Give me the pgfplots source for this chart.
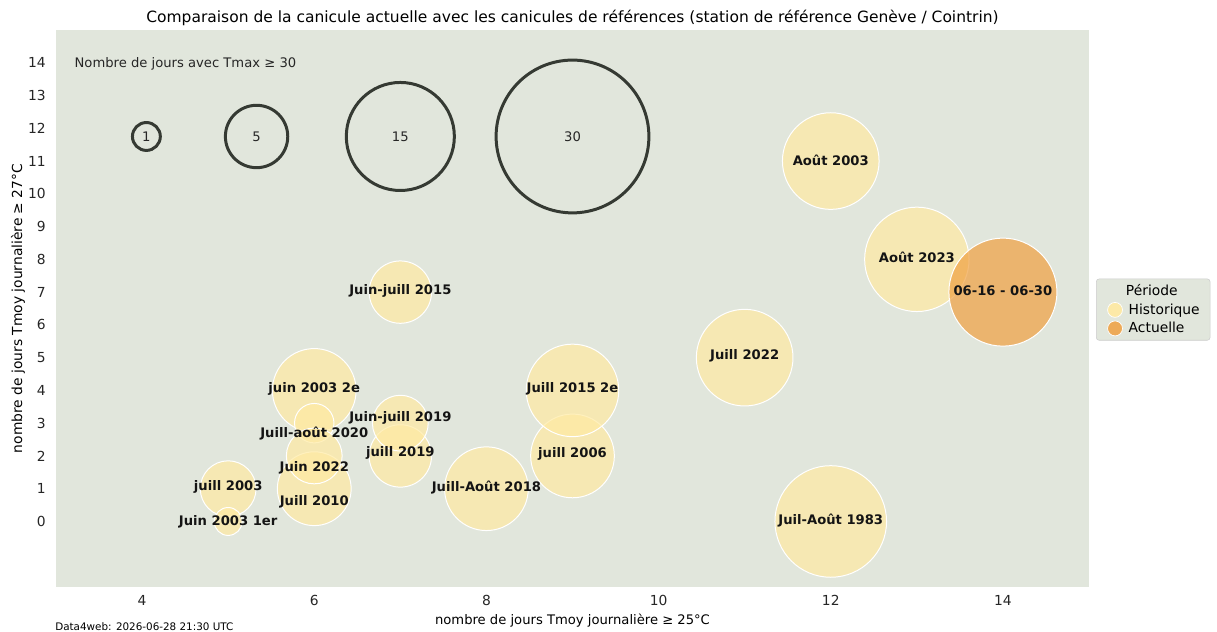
\documentclass[border=0pt]{standalone}
\usepackage{fontspec}
\setmainfont{DejaVu Sans}
\usepackage{pgfplots}
\pgfplotsset{compat=1.18}
\definecolor{BG}{HTML}{E1E6DC}
\definecolor{HistC}{HTML}{FFEAA2}
\definecolor{ActC}{HTML}{F0A040}
\definecolor{KeyC}{HTML}{353A33}
\definecolor{LegEdge}{HTML}{CCCCCC}

% 1 px of the reference = 0.01in = 0.72pt
\begin{document}
\begin{tikzpicture}
\useasboundingbox (-0.56in,-0.45in) rectangle (11.61in,5.87in);
\begin{axis}[
  name=ax,
  at={(0,0)}, anchor=south west,
  width=10.33in, height=5.57in, scale only axis,
  xmin=3, xmax=15, ymin=-2, ymax=15,
  xtick={4,6,8,10,12,14},
  ytick={0,1,...,14},
  major tick length=0pt,
  axis line style={draw=none},
  axis background/.style={fill=BG},
  /pgf/number format/assume math mode=true,
  tick label style={font=\fontsize{10}{12}\selectfont, text=black!85},
  xticklabel style={yshift=-2.5pt},
  yticklabel style={xshift=-3.9pt},
  title={Comparaison de la canicule actuelle avec les canicules de références (station de référence Genève / Cointrin)},
  title style={font=\fontsize{11.2}{13}\selectfont, at={(axis description cs:0.5,1)}, anchor=center, yshift=2.4pt},
  xlabel={nombre de jours Tmoy journalière ≥ 25°C},
  ylabel={nombre de jours Tmoy journalière ≥ 27°C},
  xlabel style={font=\fontsize{9.5}{12}\selectfont, at={(axis description cs:0.5,0)}, anchor=center, yshift=-24.5pt},
  ylabel style={font=\fontsize{10}{12}\selectfont, at={(axis description cs:0,0.5)}, anchor=center, yshift=27.4pt},
  legend cell align=left,
  legend style={at={(1.0068,0.498)}, anchor=west, fill=BG, draw=LegEdge,
    rounded corners=2pt, font=\fontsize{10}{12}\selectfont, row sep=0.3pt,
    nodes={inner xsep=4.5pt}},
  legend image post style={xshift=2pt},
]
\addlegendimage{empty legend}
\addlegendentry{\hspace*{-2pt}Période}
\addlegendimage{only marks, mark=*, mark size=5.4pt, mark options={draw=white, fill=HistC, fill opacity=0.9, line width=0.5pt}}
\addlegendentry{Historique}
\addlegendimage{only marks, mark=*, mark size=5.4pt, mark options={draw=white, fill=ActC, fill opacity=0.85, line width=0.5pt}}
\addlegendentry{Actuelle}

% size key circles (days with Tmax >= 30)
\addplot[forget plot, scatter, only marks, mark=o,
  scatter/use mapped color={draw=KeyC},
  mark options={line width=2.16pt},
  visualization depends on={10.08*sqrt(\thisrow{n}) \as \rad},
  scatter/@pre marker code/.append style={/tikz/mark size=\rad},
] table {
x y n
4.05 11.75 1
5.33 11.75 5
7 11.75 15
9 11.75 30
};

% historical heat waves
\addplot[forget plot, scatter, only marks, mark=*,
  scatter/use mapped color={draw=white, fill=HistC},
  mark options={line width=0.72pt, fill opacity=0.7},
  visualization depends on={10.08*sqrt(\thisrow{n}) \as \rad},
  scatter/@pre marker code/.append style={/tikz/mark size=\rad},
] table {
x y n
12 0 16
6 4 9
5 1 4
5 0 1
12 11 12
9 2 9
6 1 7
7 7 5
9 4 11
8 1 9
7 2 5
7 3 4
6 3 2
11 5 12
6 2 4
13 8 14
};

% current heat wave
\addplot[forget plot, scatter, only marks, mark=*,
  scatter/use mapped color={draw=white, fill=ActC},
  mark options={line width=0.72pt, fill opacity=0.7},
  visualization depends on={10.08*sqrt(\thisrow{n}) \as \rad},
  scatter/@pre marker code/.append style={/tikz/mark size=\rad},
] table {
x y n
14 7 15
};

\end{axis}

\begin{axis}[
  at={(0,0)}, anchor=south west,
  width=10.33in, height=5.57in, scale only axis,
  xmin=3, xmax=15, ymin=-2, ymax=15,
  hide axis, clip=false,
]
\addplot[draw=none, forget plot] coordinates {(3,-2) (15,15)};
\begin{scope}[font=\fontsize{9.5}{11}\selectfont, text=black!85]
\node[anchor=west] at (axis cs:3.16,13.96) {Nombre de jours avec Tmax ≥ 30};
\node at (axis cs:4.05,11.75) {1};
\node at (axis cs:5.33,11.75) {5};
\node at (axis cs:7,11.75) {15};
\node at (axis cs:9,11.75) {30};
\end{scope}
\begin{scope}[font=\fontsize{9.5}{11}\selectfont\bfseries, text=black!92]
\node at (axis cs:12,11.03) {Août 2003};
\node at (axis cs:13,8.06) {Août 2023};
\node at (axis cs:14,7.03) {06-16 - 06-30};
\node at (axis cs:7,7.05) {Juin-juill 2015};
\node at (axis cs:11,5.06) {Juill 2022};
\node at (axis cs:6,4.06) {juin 2003 2e};
\node at (axis cs:9,4.06) {Juill 2015 2e};
\node at (axis cs:7,3.15) {Juin-juill 2019};
\node at (axis cs:6,2.67) {Juill-août 2020};
\node at (axis cs:7,2.08) {juill 2019};
\node at (axis cs:6,1.63) {Juin 2022};
\node at (axis cs:5,1.05) {juill 2003};
\node at (axis cs:6,0.6) {Juill 2010};
\node at (axis cs:5,-0.02) {Juin 2003 1er};
\node at (axis cs:8,1.05) {Juill-Août 2018};
\node at (axis cs:9,2.07) {juill 2006};
\node at (axis cs:12,0.04) {Juil-Août 1983};
\end{scope}
\end{axis}
\node[anchor=west, font=\fontsize{7.5}{9}\selectfont, inner sep=0pt] at ([yshift=-28.8pt,xshift=-0.7pt]ax.south west) {Data4web: 2026-06-28 21:30 UTC};
\end{tikzpicture}
\end{document}
